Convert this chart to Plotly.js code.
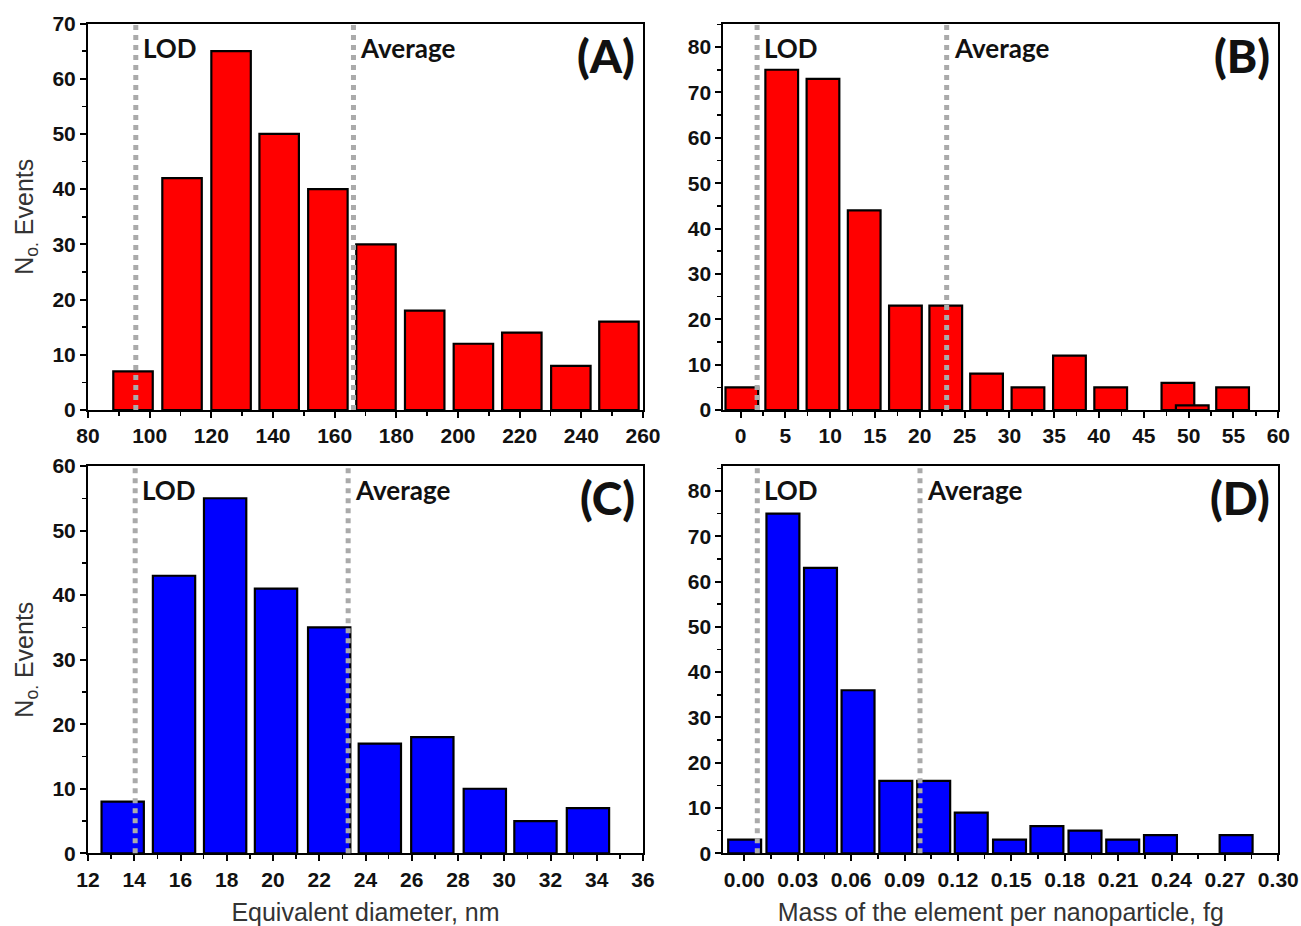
<!DOCTYPE html>
<html><head><meta charset="utf-8">
<script src="https://cdn.plot.ly/plotly-3.0.1.min.js"></script>
<style>html,body{margin:0;padding:0;background:#fff}#chart{width:1301px;height:926px}</style>
</head><body><div id="chart"></div>
<script>
// ---- data ----
const diamBinsA = [94.6,110.5,126.4,142,157.8,173.4,189.2,205,220.7,236.6,252.2];
const countsA   = [7,42,65,50,40,30,18,12,14,8,16];
const massBinsB = [0.15,4.6,9.2,13.8,18.4,22.9,27.45,32.07,36.7,41.3,48.8,50.4,54.9];
const countsB   = [5,75,73,44,23,23,8,5,12,5,6,1,5];
const diamBinsC = [13.5,15.72,17.93,20.13,22.43,24.62,26.89,29.16,31.35,33.62];
const countsC   = [8,43,55,41,35,17,18,10,5,7];
const massBinsD = [0.0002,0.0217,0.0428,0.0639,0.0851,0.1064,0.1275,0.149,0.170,0.1914,0.2126,0.2338,0.2763];
const countsD   = [3,75,63,36,16,16,9,3,6,5,3,4,4];
const lodValues = [95.5, 1.85, 14.04, 0.0073];
const avgValues = [166.1, 23.0, 23.25, 0.0987];
const panelLabels = ['(A)','(B)','(C)','(D)'];
const lineLabels = ['LOD','Average'];
const yTitle = 'N<sub>o.</sub> Events';
const xTitleC = 'Equivalent diameter, nm';
const xTitleD = 'Mass of the element per nanoparticle, fg';

// ---- styling ----
const W = 1301, H = 926;
const colL = [88/W, 643/W], colR = [723.3/W, 1278.3/W];
const rowT = [1-410/H, 1-23.5/H], rowB = [1-853.3/H, 1-466/H];
const tickFont = {family:'"Liberation Sans Narrow","Liberation Sans",Arial,sans-serif', size:21, color:'#111', weight:700};
const titleFont = {family:'"Liberation Sans",Arial,sans-serif', size:25, color:'#333'};

function axis(domain, range, dtick, minorDtick, tick0, anchor, extra){
  return Object.assign({
    domain: domain, range: range, anchor: anchor,
    showline:true, linecolor:'#000', linewidth:2, mirror:true,
    ticks:'outside', ticklen:6, tickwidth:2, tickcolor:'#000',
    dtick:dtick, tick0:tick0, tickfont:tickFont,
    minor:{ticks:'outside', ticklen:4, tickwidth:1.5, tickcolor:'#000', dtick:minorDtick, tick0:tick0, showgrid:false},
    showgrid:false, zeroline:false, fixedrange:true
  }, extra||{});
}

const barLine = {color:'#000', width:2.2};
const traces = [
  {type:'bar', x:diamBinsA, y:countsA, width:12.8, xaxis:'x', yaxis:'y', marker:{color:'#ff0000', line:barLine}},
  {type:'bar', x:massBinsB, y:countsB, width:3.65, xaxis:'x2', yaxis:'y2', marker:{color:'#ff0000', line:barLine}},
  {type:'bar', x:diamBinsC, y:countsC, width:1.83, xaxis:'x3', yaxis:'y3', marker:{color:'#0000ff', line:barLine}},
  {type:'bar', x:massBinsD, y:countsD, width:0.0185, xaxis:'x4', yaxis:'y4', marker:{color:'#0000ff', line:barLine}}
];

const layout = {
  width:W, height:H, margin:{l:0,r:0,t:0,b:0}, paper_bgcolor:'#fff', plot_bgcolor:'#fff',
  showlegend:false, barmode:'overlay',
  xaxis:  axis(colL,[80,260],20,10,80,'y'),
  yaxis:  axis(rowT,[0,70],10,5,0,'x',{title:{text:yTitle, font:titleFont, standoff:12}}),
  xaxis2: axis(colR,[-1.92,60],5,2.5,0,'y2'),
  yaxis2: axis(rowT,[0,85.2],10,5,0,'x2'),
  xaxis3: axis(colL,[12,36],2,1,12,'y3',{title:{text:xTitleC, font:titleFont, standoff:18}}),
  yaxis3: axis(rowB,[0,60],10,5,0,'x3',{title:{text:yTitle, font:titleFont, standoff:12}}),
  xaxis4: axis(colR,[-0.0118,0.30],0.03,0.015,0,'y4',{tickformat:'.2f', title:{text:xTitleD, font:titleFont, standoff:18}}),
  yaxis4: axis(rowB,[0,85.5],10,5,0,'x4'),
  shapes:[], annotations:[]
};

const axIds = ['', '2', '3', '4'];
const annFont = {family:'Lato,"Open Sans",sans-serif', size:26, color:'#111', weight:700};
const bigFont = {family:'Lato,"Open Sans",sans-serif', size:46, color:'#111', weight:900};
axIds.forEach((id, i) => {
  const xr = 'x'+id, yr = 'y'+id;
  [lodValues[i], avgValues[i]].forEach((v, k) => {
    layout.shapes.push({type:'line', xref:xr, yref:yr+' domain', x0:v, x1:v, y0:0, y1:1,
      line:{color:'#aaaaaa', width:5, dash:'dot'}, layer:'above'});
    layout.annotations.push({xref:xr, yref:yr+' domain', x:v, y:1, xanchor:'left', yanchor:'top',
      xshift:5, yshift:-6, text:lineLabels[k], showarrow:false, font:annFont});
  });
  layout.annotations.push({xref:xr+' domain', yref:yr+' domain', x:1, y:1, xanchor:'right', yanchor:'top',
    xshift:-6, yshift:-2, text:panelLabels[i], showarrow:false, font:bigFont});
});

Plotly.newPlot('chart', traces, layout, {displayModeBar:false, staticPlot:true});
</script>
</body></html>
